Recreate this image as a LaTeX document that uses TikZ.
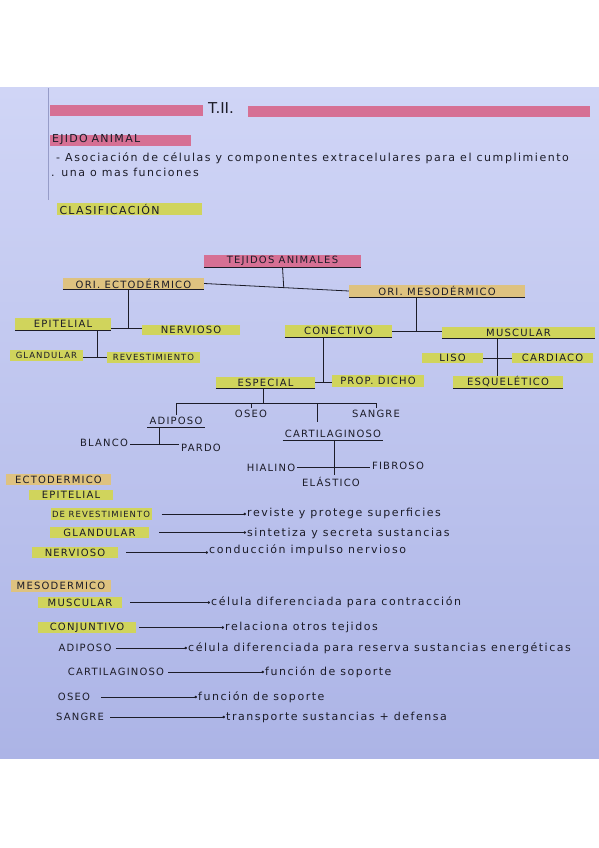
\documentclass[tikz,border=0pt]{standalone}
\usepackage{fontspec}
\setmainfont{DejaVu Sans}
\newfontfamily\capf[LetterSpace=12]{DejaVu Sans}
\newfontfamily\lowf[LetterSpace=14]{DejaVu Sans}
\usetikzlibrary{arrows.meta,calc}
\definecolor{paperTop}{RGB}{208,213,246}
\definecolor{paperBot}{RGB}{172,180,230}
\definecolor{hlpink}{RGB}{214,112,148}
\definecolor{hlyel}{RGB}{208,212,92}
\definecolor{hltan}{RGB}{222,194,128}
\definecolor{ink}{RGB}{28,28,40}
\definecolor{margin}{RGB}{150,156,200}
\tikzset{
  lbl/.style={inner sep=0pt, text=ink, font=\capf\fontsize{10}{11}\selectfont},
  tl/.style={lbl, inner sep=2pt},
  box/.style={lbl, minimum height=11pt},
  ybox/.style={box, fill=hlyel},
  tbox/.style={box, fill=hltan},
  pbox/.style={box, fill=hlpink},
  small/.style={font=\capf\fontsize{8.5}{9}\selectfont},
  big/.style={font=\capf\fontsize{11}{12}\selectfont},
  link/.style={draw=ink, line width=0.8pt},
  note/.style={inner sep=1pt, text=ink, font=\lowf\fontsize{11}{12}\selectfont, anchor=west},
  arr/.style={link, -{Circle[length=2.4pt]}},
}
\begin{document}
\begin{tikzpicture}[x=1pt,y=-1pt]
\useasboundingbox (0,0) rectangle (599,848);
\fill[white] (0,0) rectangle (599,848);
\shade[top color=paperTop, bottom color=paperBot] (0,88) rectangle (599,758);
\draw[margin, line width=0.6pt] (48,88) -- (48,200);

% ---------- header ----------
\fill[hlpink] (50,105) rectangle (203,116);
\node[lbl, font=\fontsize{15}{16}\selectfont] (title) at (221,108) {T.II.};
\fill[hlpink] (248,106) rectangle (590,117);
\node[pbox, big, minimum width=141pt, text width=137pt, align=left] (tejan) at (120.5,140) {EJIDO ANIMAL};
\node[note] (def1) at (55,158) {- Asociación de células y componentes extracelulares para el cumplimiento};
\node[note] (def2) at (50,172) {. una o mas funciones};
\node[ybox, big, minimum width=145pt, minimum height=12pt, text width=140pt, align=left] (clas) at (129.5,209) {CLASIFICACIÓN};

% ---------- tree ----------
\node[pbox, minimum width=157pt, minimum height=12pt] (tej) at (282.5,261) {TEJIDOS ANIMALES};
\node[tbox, minimum width=141pt] (ecto) at (133.5,283.5) {ORI. ECTODÉRMICO};
\node[tbox, minimum width=176pt, minimum height=12pt] (meso) at (437,291) {ORI. MESODÉRMICO};
\node[ybox, minimum width=96pt, minimum height=12pt] (epi) at (63,324) {EPITELIAL};
\node[ybox, minimum width=98pt, minimum height=10pt] (nerv) at (191,330) {NERVIOSO};
\node[ybox, minimum width=107pt, minimum height=12pt] (conec) at (338.5,331) {CONECTIVO};
\node[ybox, minimum width=153pt] (musc) at (518.5,332.5) {MUSCULAR};
\node[ybox, minimum width=73pt, small] (gland) at (46.5,355.5) {GLANDULAR};
\node[ybox, minimum width=93pt, small] (revest) at (153.5,357.5) {REVESTIMIENTO};
\node[ybox, minimum width=61pt, minimum height=10pt] (liso) at (452.5,358) {LISO};
\node[ybox, minimum width=81pt, minimum height=10pt] (card) at (552.5,358) {CARDIACO};
\node[ybox, minimum width=99pt] (espec) at (265.5,382.5) {ESPECIAL};
\node[ybox, minimum width=92pt, minimum height=12pt] (prop) at (378,381) {PROP. DICHO};
\node[ybox, minimum width=110pt, minimum height=12pt] (esque) at (508,382) {ESQUELÉTICO};

\node[tl] (adip) at (176,421) {ADIPOSO};
\node[tl] (oseo) at (251,414) {OSEO};
\node[tl] (sang) at (376,414) {SANGRE};
\node[tl] (cart) at (333,434) {CARTILAGINOSO};
\node[tl] (blan) at (104,443) {BLANCO};
\node[tl] (pard) at (201,448) {PARDO};
\node[tl] (hial) at (271,468) {HIALINO};
\node[tl] (fibr) at (398,466) {FIBROSO};
\node[tl] (elast) at (331,482) {ELÁSTICO};

% underlines
\foreach \n in {tej,ecto,meso,epi,conec,musc,espec,esque,adip,cart}
  \draw[link] (\n.south west) -- (\n.south east);

% connectors
\coordinate (j0) at ($(ecto.east)!0.55!(meso.west)$);
\draw[link] (ecto.east) -- (meso.west);
\draw[link] (tej.south) -- (j0);

\coordinate (jE) at (128,328);
\draw[link] (jE |- ecto.south) -- (jE);
\draw[link] (epi.east |- jE) -- (nerv.west |- jE);

\coordinate (jP) at (97,357);
\draw[link] (jP |- epi.south) -- (jP);
\draw[link] (gland.east |- jP) -- (revest.west |- jP);

\coordinate (jM) at (416,331);
\draw[link] (jM |- meso.south) -- (jM);
\draw[link] (conec.east |- jM) -- (musc.west |- jM);

\coordinate (jC) at (323,382);
\draw[link] (jC |- conec.south) -- (jC);
\draw[link] (espec.east |- jC) -- (prop.west |- jC);

\coordinate (jU) at (497,358);
\draw[link] (jU |- musc.south) -- (jU |- esque.north);
\draw[link] (liso.east |- jU) -- (card.west |- jU);

\coordinate (jS) at (263,403);
\draw[link] (jS |- espec.south) -- (jS);
\draw[link] (adip.north |- jS) -- (sang.north |- jS);
\draw[link] (adip.north |- jS) -- (adip.north);
\draw[link] (oseo.north |- jS) -- (oseo.north);
\draw[link] (sang.north |- jS) -- (sang.north);
\coordinate (ct) at (317,422);
\draw[link] (ct |- jS) -- (ct);

\coordinate (jA) at (159,444);
\draw[link] (jA |- adip.south) -- (jA);
\draw[link] (blan.east |- jA) -- (pard.west |- jA);

\coordinate (jT) at (334,467);
\draw[link] (jT |- cart.south) -- (jT |- elast.north);
\draw[link] (hial.east |- jT) -- (fibr.west |- jT);

% ---------- lower list ----------
\node[tbox, minimum width=105pt] (ectoL) at (58.5,479.5) {ECTODERMICO};
\node[ybox, minimum width=84pt, minimum height=10pt] (epiL) at (71,495) {EPITELIAL};
\node[ybox, minimum width=101pt, minimum height=12pt, small] (derev) at (101,514) {DE REVESTIMIENTO};
\node[ybox, minimum width=99pt] (glandL) at (99.5,532.5) {GLANDULAR};
\node[ybox, minimum width=86pt] (nervL) at (75,552.5) {NERVIOSO};

\node[note] (d1) at (246,513) {reviste y protege superficies};
\node[note] (d2) at (246,533) {sintetiza y secreta sustancias};
\node[note] (d3) at (208,550) {conducción impulso nervioso};
\draw[arr, shorten <=10pt] (derev.east) -- (d1.west |- derev.east);
\draw[arr, shorten <=10pt] (glandL.east) -- (d2.west |- glandL.east);
\draw[arr, shorten <=8pt] (nervL.east) -- (d3.west |- nervL.east);

\node[tbox, minimum width=100pt, minimum height=12pt] (mesoL) at (61,586) {MESODERMICO};
\node[ybox, minimum width=84pt] (muscL) at (80,602.5) {MUSCULAR};
\node[ybox, minimum width=98pt] (conjL) at (87,627.5) {CONJUNTIVO};
\node[tl] (adipL) at (85,648) {ADIPOSO};
\node[tl] (cartL) at (116,672) {CARTILAGINOSO};
\node[tl] (oseoL) at (74,697) {OSEO};
\node[tl] (sangL) at (80,717) {SANGRE};

\node[note] (d4) at (210,602.5) {célula diferenciada para contracción};
\node[note] (d5) at (224,627.5) {relaciona otros tejidos};
\node[note] (d6) at (187,648) {célula diferenciada para reserva sustancias energéticas};
\node[note] (d7) at (264,672) {función de soporte};
\node[note] (d8) at (197,697) {función de soporte};
\node[note] (d9) at (225,717) {transporte sustancias + defensa};
\draw[arr, shorten <=8pt] (muscL.east) -- (d4.west);
\draw[arr, shorten <=3pt] (conjL.east) -- (d5.west);
\draw[arr, shorten <=2pt] (adipL.east) -- (d6.west);
\draw[arr, shorten <=2pt] (cartL.east) -- (d7.west);
\draw[arr, shorten <=9pt] (oseoL.east) -- (d8.west);
\draw[arr, shorten <=4pt] (sangL.east) -- (d9.west);
\end{tikzpicture}
\end{document}
